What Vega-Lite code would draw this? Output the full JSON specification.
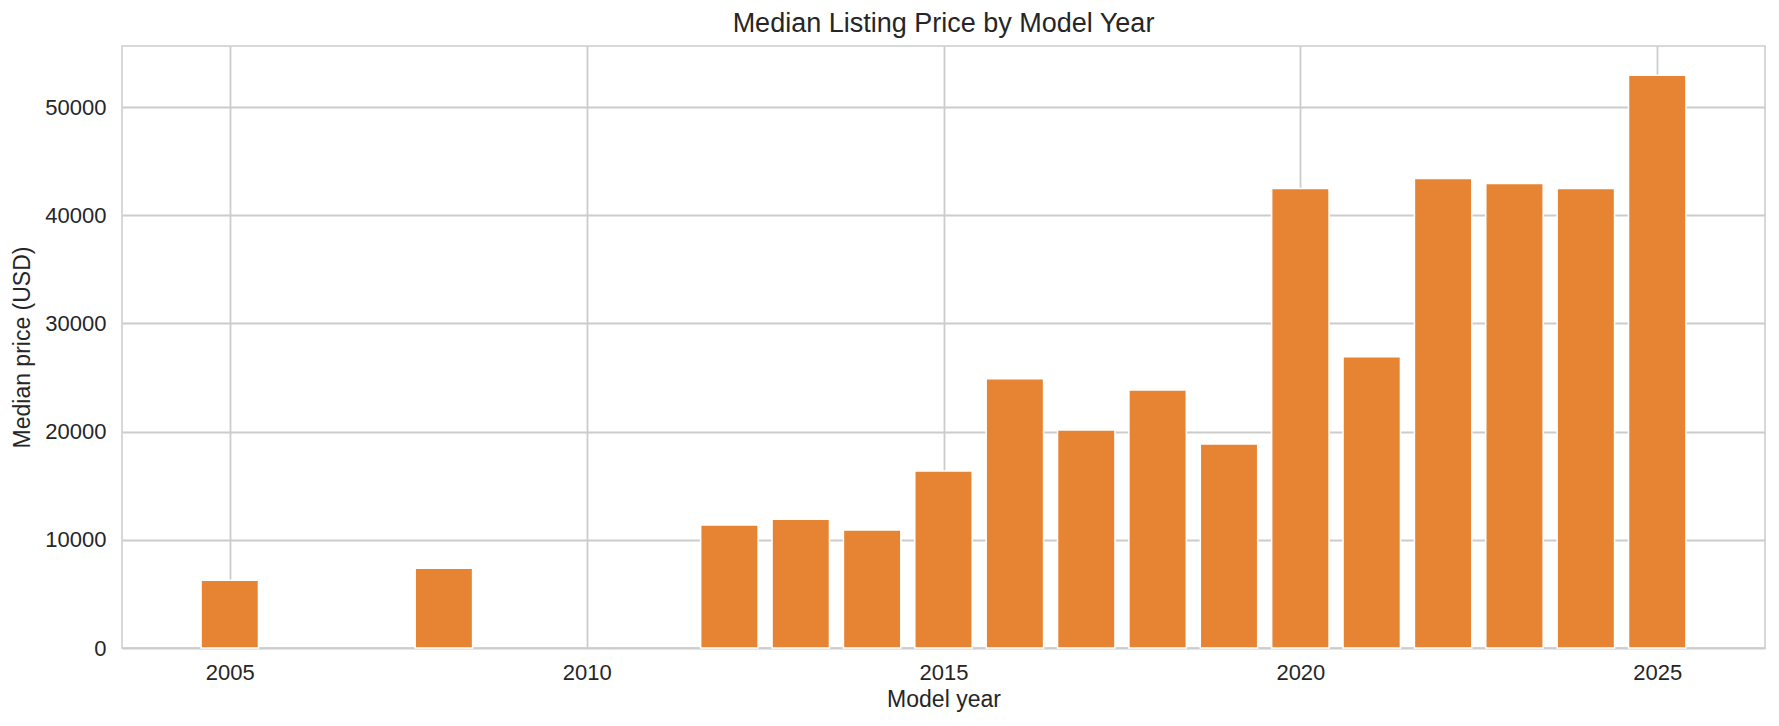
{
  "$schema": "https://vega.github.io/schema/vega-lite/v6.json",
  "width": 1643,
  "height": 602,
  "autosize": {"type": "none"},
  "padding": {"left": 122, "top": 46, "right": 14, "bottom": 78},
  "background": "white",
  "title": {
    "text": "Median Listing Price by Model Year",
    "fontSize": 27,
    "font": "Liberation Sans",
    "fontWeight": "normal",
    "color": "#262626",
    "anchor": "middle",
    "frame": "group",
    "baseline": "alphabetic",
    "offset": 11,
    "dy": 24
  },
  "data": {
    "values": [
      {"year": 2005, "price": 6270},
      {"year": 2008, "price": 7380},
      {"year": 2012, "price": 11360},
      {"year": 2013, "price": 11900},
      {"year": 2014, "price": 10900},
      {"year": 2015, "price": 16360},
      {"year": 2016, "price": 24880},
      {"year": 2017, "price": 20160},
      {"year": 2018, "price": 23860},
      {"year": 2019, "price": 18860},
      {"year": 2020, "price": 42470},
      {"year": 2021, "price": 26920},
      {"year": 2022, "price": 43400},
      {"year": 2023, "price": 42935},
      {"year": 2024, "price": 42470},
      {"year": 2025, "price": 52935}
    ]
  },
  "mark": {"type": "bar", "width": 57.4, "color": "#e68433", "stroke": "white", "strokeWidth": 1.5},
  "encoding": {
    "x": {
      "field": "year",
      "type": "quantitative",
      "scale": {"domain": [2003.56, 2026.44], "nice": false, "zero": false},
      "axis": {
        "values": [2005, 2010, 2015, 2020, 2025],
        "format": "d",
        "title": "Model year",
        "labelPadding": 14,
        "titlePadding": 5
      }
    },
    "y": {
      "field": "price",
      "type": "quantitative",
      "scale": {"domain": [0, 55650], "nice": false},
      "axis": {
        "values": [0, 10000, 20000, 30000, 40000, 50000],
        "format": "d",
        "title": "Median price (USD)",
        "labelPadding": 16,
        "titlePadding": 10
      }
    }
  },
  "config": {
    "view": {"stroke": "#cccccc", "strokeWidth": 1.5},
    "axis": {
      "domain": false,
      "ticks": false,
      "grid": true,
      "gridColor": "#cccccc",
      "gridWidth": 1.8,
      "labelFont": "Liberation Sans",
      "labelFontSize": 22,
      "labelColor": "#262626",
      "titleFont": "Liberation Sans",
      "titleFontSize": 23,
      "titleColor": "#262626",
      "titleFontWeight": "normal"
    }
  }
}
